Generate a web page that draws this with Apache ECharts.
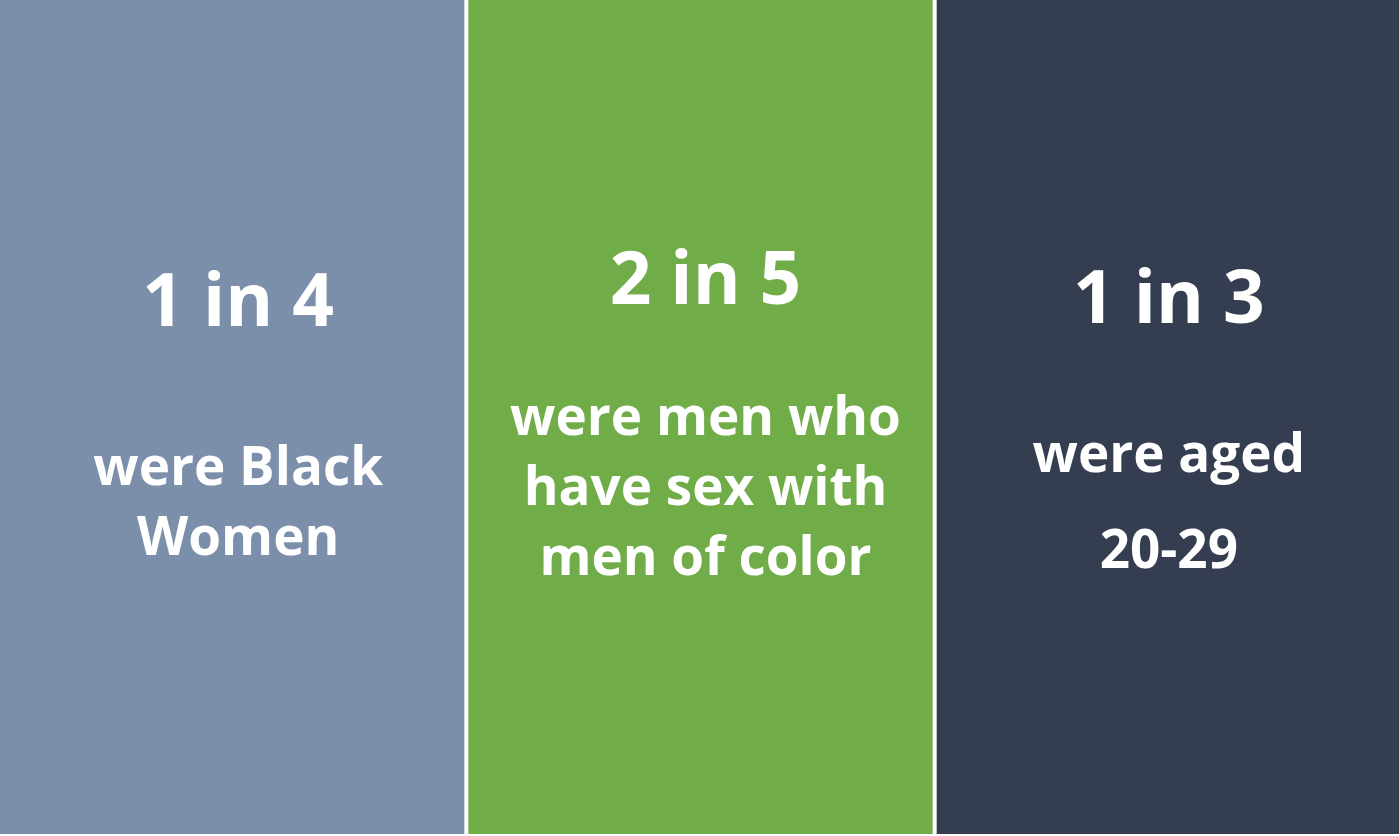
<!DOCTYPE html>
<html>
<head>
<meta charset="utf-8">
<script src="https://cdn.jsdelivr.net/npm/echarts@6/dist/echarts.min.js"></script>
<style>
  html, body { margin: 0; padding: 0; background: #fff; overflow: hidden; }
  #chart { width: 1405px; height: 836px; margin-left: -2px; }
</style>
</head>
<body>
<div id="chart"></div>
<script>
// 数据
const categories = ['Black Women', 'MSM of color', 'Aged 20-29'];
const panelValues = [1, 1, 1];
const ratios = ['1 in 4', '2 in 5', '1 in 3'];
const descLines = [
  ['were Black', 'Women'],
  ['were men who', 'have sex with', 'men of color'],
  ['were aged', '20-29']
];
const colors = ['#7b8faa', '#70ac47', '#343e50'];

// 每个面板的文字布局
const labelTops = [265, 243, 262];
const labelShift = [6, 5, 0];
const gapHeights = [90, 62, 80];
const lineGaps = [0, 0, 26];

function makeLabel(i) {
  let parts = ['{big|' + ratios[i] + '}', '{g' + i + '|}'];
  descLines[i].forEach((line, k) => {
    if (k > 0 && lineGaps[i] > 0) parts.push('{lg' + i + '|}');
    parts.push('{sub|' + line + '}');
  });
  return parts.join('\n');
}

const rich = {
  big: { fontSize: 73, lineHeight: 80, fontWeight: 'bold', color: '#fff', fontFamily: 'Open Sans' },
  sub: { fontSize: 53, lineHeight: 70, fontWeight: 'bold', color: '#fff', fontFamily: 'Open Sans' }
};
for (let i = 0; i < 3; i++) {
  rich['g' + i] = { height: gapHeights[i], lineHeight: gapHeights[i], fontSize: 1 };
  rich['lg' + i] = { height: lineGaps[i], lineHeight: lineGaps[i], fontSize: 1 };
}

const chart = echarts.init(document.getElementById('chart'));
chart.setOption({
  animation: false,
  grid: { left: 0, right: 0, top: 0, bottom: 2 },
  xAxis: { type: 'category', data: categories, show: false },
  yAxis: { type: 'value', min: 0, max: 1, show: false },
  series: [{
    type: 'bar',
    barCategoryGap: '0.86%',
    data: panelValues.map((v, i) => ({
      value: v,
      itemStyle: { color: colors[i] },
      label: {
        show: true,
        position: ['50%', labelTops[i]],
        offset: [labelShift[i], 0],
        align: 'center',
        verticalAlign: 'top',
        formatter: makeLabel(i),
        rich: rich
      }
    }))
  }]
});
</script>
</body>
</html>
